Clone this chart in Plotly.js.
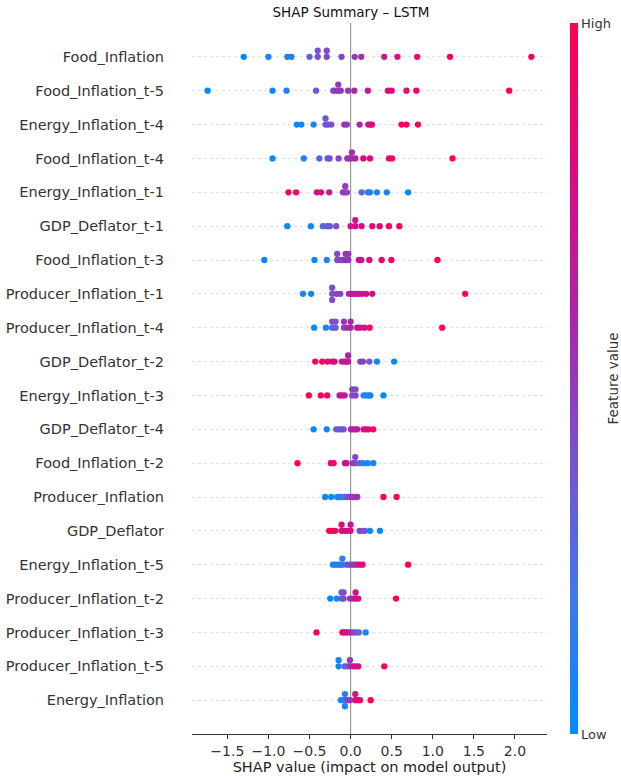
<!DOCTYPE html>
<html>
<head>
<meta charset="utf-8">
<script src="https://cdn.plot.ly/plotly-3.0.1.min.js"></script>
<style>html,body{margin:0;padding:0;background:#fff;}#chart{width:621px;height:777px;}</style>
</head>
<body>
<div id="chart"></div>
<script>
// Features, top to bottom
const features = [
  "Food_Inflation", "Food_Inflation_t-5", "Energy_Inflation_t-4", "Food_Inflation_t-4",
  "Energy_Inflation_t-1", "GDP_Deflator_t-1", "Food_Inflation_t-3", "Producer_Inflation_t-1",
  "Producer_Inflation_t-4", "GDP_Deflator_t-2", "Energy_Inflation_t-3", "GDP_Deflator_t-4",
  "Food_Inflation_t-2", "Producer_Inflation", "GDP_Deflator", "Energy_Inflation_t-5",
  "Producer_Inflation_t-2", "Producer_Inflation_t-3", "Producer_Inflation_t-5", "Energy_Inflation"
];

// SHAP values per feature (same order as features)
const shapValues = [
  [-1.30, -1.00, -0.77, -0.72, -0.50, -0.40, -0.40, -0.29, -0.29, -0.11, 0.05, 0.13, 0.41, 0.57, 0.81, 1.21, 2.20],
  [-1.74, -0.95, -0.78, -0.42, -0.21, -0.18, -0.15, -0.15, -0.12, -0.03, 0.045, 0.21, 0.455, 0.50, 0.68, 0.80, 1.93],
  [-0.655, -0.60, -0.45, -0.305, -0.305, -0.275, -0.235, -0.077, -0.045, 0.11, 0.215, 0.245, 0.26, 0.62, 0.68, 0.82],
  [-0.95, -0.57, -0.38, -0.28, -0.255, -0.146, -0.04, -0.012, 0.016, 0.016, 0.057, 0.155, 0.236, 0.467, 0.504, 1.24],
  [-0.756, -0.663, -0.41, -0.36, -0.26, -0.093, -0.065, -0.065, -0.045, 0.134, 0.21, 0.236, 0.32, 0.44, 0.70],
  [-0.77, -0.484, -0.337, -0.285, -0.252, -0.175, 0.0, 0.057, 0.057, 0.134, 0.264, 0.354, 0.467, 0.593],
  [-1.05, -0.44, -0.29, -0.163, -0.163, -0.126, -0.093, -0.061, -0.061, -0.028, -0.028, 0.10, 0.13, 0.228, 0.378, 0.496, 1.057],
  [-0.58, -0.48, -0.224, -0.224, -0.224, -0.17, -0.126, -0.02, 0.008, 0.037, 0.069, 0.10, 0.138, 0.19, 0.264, 1.394],
  [-0.443, -0.30, -0.224, -0.224, -0.183, -0.183, -0.081, -0.081, -0.045, 0.0, 0.0, 0.081, 0.114, 0.167, 0.232, 1.114],
  [-0.43, -0.346, -0.28, -0.224, -0.195, -0.106, -0.073, -0.045, -0.03, -0.03, 0.118, 0.15, 0.228, 0.32, 0.53],
  [-0.508, -0.362, -0.285, -0.134, -0.106, -0.073, 0.02, 0.02, 0.06, 0.06, 0.159, 0.19, 0.224, 0.24, 0.40],
  [-0.45, -0.29, -0.175, -0.142, -0.11, -0.085, 0.004, 0.028, 0.057, 0.081, 0.159, 0.19, 0.22, 0.276],
  [-0.646, -0.24, -0.207, -0.069, -0.049, 0.028, 0.057, 0.057, 0.11, 0.15, 0.207, 0.276],
  [-0.31, -0.236, -0.163, -0.134, -0.106, -0.073, -0.04, -0.008, 0.028, 0.057, 0.081, 0.40, 0.56],
  [-0.26, -0.228, -0.187, -0.11, -0.11, -0.073, -0.04, 0.0, 0.0, 0.11, 0.142, 0.175, 0.236, 0.358],
  [-0.215, -0.187, -0.154, -0.126, -0.10, -0.10, -0.053, -0.02, 0.012, 0.045, 0.077, 0.11, 0.146, 0.70],
  [-0.248, -0.17, -0.11, -0.11, -0.085, -0.085, -0.008, 0.024, 0.061, 0.061, 0.093, 0.553],
  [-0.415, -0.10, -0.077, -0.053, -0.028, 0.004, 0.037, 0.069, 0.10, 0.183],
  [-0.146, -0.146, -0.073, -0.04, -0.008, -0.008, 0.028, 0.061, 0.093, 0.41],
  [-0.118, -0.085, -0.069, -0.069, -0.069, -0.037, -0.008, 0.057, 0.057, 0.089, 0.114, 0.244]
];

// Normalised feature values (0 = low, 1 = high)
const featureValues = [
  [0.0, 0.05, 0.1, 0.1, 0.3, 0.4, 0.4, 0.42, 0.42, 0.45, 0.5, 0.55, 0.65, 0.8, 0.88, 0.95, 1.0],
  [0.0, 0.05, 0.1, 0.35, 0.45, 0.45, 0.5, 0.5, 0.5, 0.5, 0.6, 0.7, 0.8, 0.8, 0.85, 0.9, 1.0],
  [0.05, 0.05, 0.1, 0.35, 0.35, 0.4, 0.4, 0.5, 0.5, 0.6, 0.75, 0.75, 0.78, 0.9, 0.92, 0.95],
  [0.0, 0.1, 0.3, 0.35, 0.38, 0.45, 0.5, 0.55, 0.55, 0.55, 0.6, 0.8, 0.8, 0.9, 0.9, 1.0],
  [1.0, 0.95, 0.8, 0.8, 0.7, 0.5, 0.5, 0.5, 0.45, 0.3, 0.1, 0.1, 0.05, 0.05, 0.0],
  [0.0, 0.05, 0.3, 0.35, 0.35, 0.4, 0.7, 0.75, 0.75, 0.75, 0.8, 0.85, 0.9, 0.95],
  [0.0, 0.05, 0.1, 0.45, 0.45, 0.45, 0.45, 0.5, 0.5, 0.5, 0.5, 0.7, 0.7, 0.8, 0.9, 0.95, 1.0],
  [0.05, 0.05, 0.4, 0.4, 0.4, 0.45, 0.45, 0.6, 0.6, 0.65, 0.65, 0.7, 0.7, 0.75, 0.75, 1.0],
  [0.0, 0.05, 0.3, 0.4, 0.35, 0.4, 0.45, 0.5, 0.55, 0.6, 0.6, 0.75, 0.75, 0.8, 0.9, 1.0],
  [1.0, 0.95, 0.9, 0.8, 0.8, 0.75, 0.75, 0.65, 0.65, 0.6, 0.45, 0.45, 0.35, 0.05, 0.0],
  [1.0, 0.95, 0.9, 0.75, 0.7, 0.65, 0.45, 0.45, 0.45, 0.4, 0.15, 0.1, 0.1, 0.05, 0.0],
  [0.0, 0.05, 0.35, 0.35, 0.4, 0.4, 0.6, 0.6, 0.65, 0.65, 0.75, 0.8, 0.85, 0.95],
  [1.0, 0.9, 0.85, 0.75, 0.7, 0.5, 0.45, 0.45, 0.3, 0.1, 0.05, 0.05],
  [0.05, 0.05, 0.1, 0.1, 0.15, 0.2, 0.4, 0.45, 0.5, 0.5, 0.55, 1.0, 0.98],
  [1.0, 0.95, 0.95, 0.85, 0.8, 0.8, 0.75, 0.75, 0.7, 0.45, 0.4, 0.35, 0.05, 0.0],
  [0.05, 0.05, 0.1, 0.1, 0.15, 0.12, 0.3, 0.4, 0.45, 0.5, 0.55, 0.8, 0.85, 1.0],
  [0.0, 0.05, 0.35, 0.35, 0.4, 0.4, 0.5, 0.55, 0.75, 0.75, 0.8, 1.0],
  [1.0, 0.85, 0.85, 0.8, 0.75, 0.55, 0.5, 0.35, 0.3, 0.05],
  [0.05, 0.05, 0.3, 0.35, 0.5, 0.5, 0.7, 0.75, 0.8, 1.0],
  [0.05, 0.05, 0.1, 0.1, 0.1, 0.45, 0.5, 0.75, 0.75, 0.9, 0.9, 1.0]
];

const xTicks = [-1.5, -1.0, -0.5, 0.0, 0.5, 1.0, 1.5, 2.0];
const colorTickText = ["Low", "High"];

// SHAP-like red/blue colour scale
const redBlue = [
  [0.0, "rgb(0,139,251)"],
  [0.2, "rgb(66,118,236)"],
  [0.4, "rgb(122,80,204)"],
  [0.5, "rgb(148,56,186)"],
  [0.6, "rgb(176,34,164)"],
  [0.8, "rgb(222,10,126)"],
  [1.0, "rgb(255,0,82)"]
];

// Beeswarm layout: identical values stack alternately above / below the row
const xs = [], ys = [], cs = [];
const n = features.length;
features.forEach((f, i) => {
  const rowPos = n - 1 - i;
  const vals = shapValues[i];
  const counts = {};
  const layers = vals.map(v => {
    const k = v.toFixed(4);
    const layer = counts[k] || 0;
    counts[k] = layer + 1;
    return Math.ceil(layer / 2) * ((layer % 2) * 2 - 1);
  });
  const maxL = Math.max(...layers);
  const scale = 0.9 * (0.4 / (maxL + 1));
  vals.forEach((v, j) => {
    xs.push(v);
    ys.push(rowPos + layers[j] * scale);
    cs.push(featureValues[i][j]);
  });
});

const trace = {
  type: "scatter",
  mode: "markers",
  x: xs, y: ys,
  marker: {
    size: 6.3,
    color: cs,
    colorscale: redBlue,
    cmin: 0, cmax: 1,
    line: {width: 0},
    showscale: true,
    colorbar: {
      x: (570 - 192) / 355, xanchor: "left", xref: "paper", xpad: 0,
      y: 0.5, yanchor: "middle", len: 1, lenmode: "fraction", ypad: 0,
      thickness: 8, outlinewidth: 0,
      tickvals: [0, 1], ticktext: colorTickText,
      ticks: "", ticklabelposition: "outside",
      tickfont: {family: "DejaVu Sans", size: 13, color: "#333"}
    }
  },
  hoverinfo: "x"
};

const layout = {
  width: 621, height: 777,
  margin: {l: 192, r: 74, t: 23, b: 43, autoexpand: false},
  paper_bgcolor: "#fff", plot_bgcolor: "#fff",
  showlegend: false,
  font: {family: "DejaVu Sans", color: "#333"},
  title: {
    text: "SHAP Summary – LSTM",
    x: 351 / 621, xanchor: "center", xref: "container",
    y: 1 - 12 / 777, yanchor: "middle", yref: "container",
    font: {family: "DejaVu Sans", size: 13.5, color: "#111"}
  },
  xaxis: {
    range: [-1.93, 2.39],
    tickvals: xTicks,
    tickformat: ".1f",
    showgrid: false, zeroline: false,
    showline: true, linecolor: "#333", linewidth: 1,
    ticks: "outside", ticklen: 4, tickcolor: "#333",
    tickfont: {size: 14, color: "#333"},
    title: {text: "SHAP value (impact on model output)", font: {size: 14.5, color: "#222"}, standoff: 2}
  },
  yaxis: {
    range: [-1, 20],
    tickvals: features.map((f, i) => n - 1 - i),
    ticktext: features,
    showgrid: true, gridcolor: "#cccccc", gridwidth: 0.6, griddash: "dot",
    zeroline: false, showline: false, ticks: "",
    ticklabelstandoff: 27,
    tickfont: {size: 14.5, color: "#333"}
  },
  shapes: [{
    type: "line", xref: "x", yref: "paper",
    x0: 0, x1: 0, y0: 0, y1: 1,
    line: {color: "#999999", width: 1.2},
    layer: "below"
  }],
  annotations: [{
    text: "Feature value", xref: "paper", yref: "paper",
    x: (612 - 192) / 355, y: 0.5, xanchor: "center", yanchor: "middle",
    textangle: -90, showarrow: false,
    font: {size: 13.5, color: "#333"}
  }]
};

Plotly.newPlot("chart", [trace], layout, {displayModeBar: false, staticPlot: true});
</script>
</body>
</html>
